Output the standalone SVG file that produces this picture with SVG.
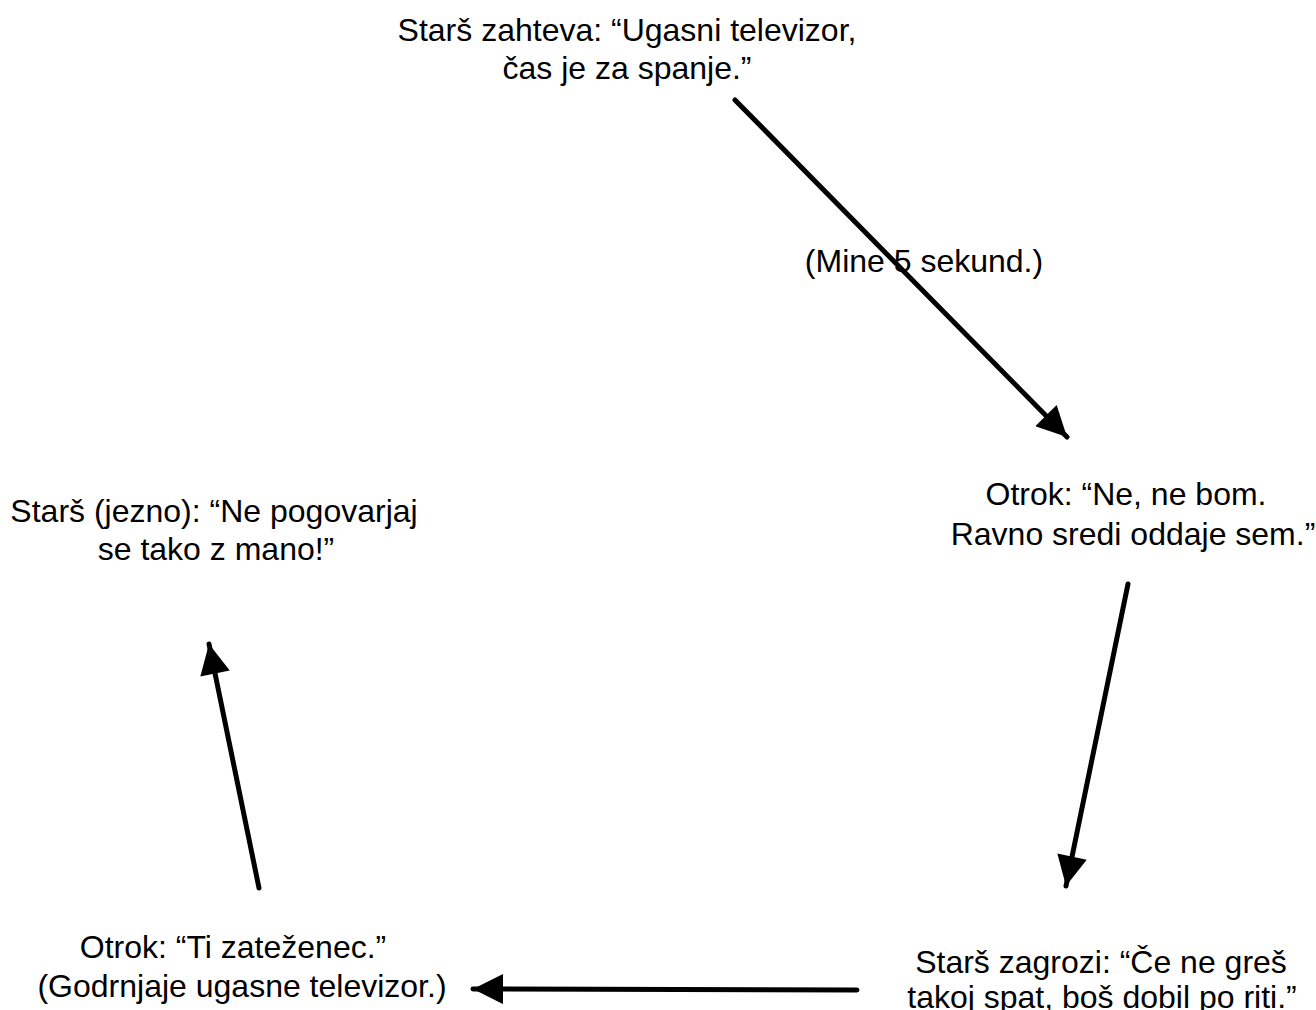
<svg xmlns="http://www.w3.org/2000/svg" width="1316" height="1010" viewBox="0 0 1316 1010">
  <style>
    .t { font-family: "Liberation Sans", Arial, sans-serif; font-size: 32px; fill: #000; text-anchor: middle; }
    .c { stroke: #000; stroke-width: 5; fill: none; stroke-linecap: round; }
  </style>
  <defs>
    <marker id="ah" viewBox="0 0 10 10" refX="10" refY="5" markerWidth="7.4" markerHeight="6" markerUnits="strokeWidth" orient="auto">
      <path d="M0,0 L10,5 L0,10 Z" fill="#000"/>
    </marker>
  </defs>
  <rect width="1316" height="1010" fill="#fff"/>

  <g id="connectors">
    <line class="c" x1="735" y1="100" x2="1067" y2="437" marker-end="url(#ah)"/>
    <line class="c" x1="1128" y1="584" x2="1066" y2="886" marker-end="url(#ah)"/>
    <line class="c" x1="857" y1="990" x2="473" y2="989" marker-end="url(#ah)"/>
    <line class="c" x1="259" y1="888" x2="209" y2="644" marker-end="url(#ah)"/>
  </g>

  <g id="n-request">
    <text class="t" x="627" y="41">Starš zahteva: “Ugasni televizor,</text>
    <text class="t" x="627" y="79">čas je za spanje.”</text>
  </g>
  <g id="label-wait">
    <text class="t" x="924" y="272">(Mine 5 sekund.)</text>
  </g>
  <g id="n-refuse">
    <text class="t" x="1126" y="505">Otrok: “Ne, ne bom.</text>
    <text class="t" x="1133" y="545">Ravno sredi oddaje sem.”</text>
  </g>
  <g id="n-threat">
    <text class="t" x="1101" y="973">Starš zagrozi: “Če ne greš</text>
    <text class="t" x="1102" y="1008">takoj spat, boš dobil po riti.”</text>
  </g>
  <g id="n-comply">
    <text class="t" x="233" y="958">Otrok: “Ti zateženec.”</text>
    <text class="t" x="242" y="997">(Godrnjaje ugasne televizor.)</text>
  </g>
  <g id="n-angry">
    <text class="t" x="214" y="522">Starš (jezno): “Ne pogovarjaj</text>
    <text class="t" x="216" y="560">se tako z mano!”</text>
  </g>
</svg>
